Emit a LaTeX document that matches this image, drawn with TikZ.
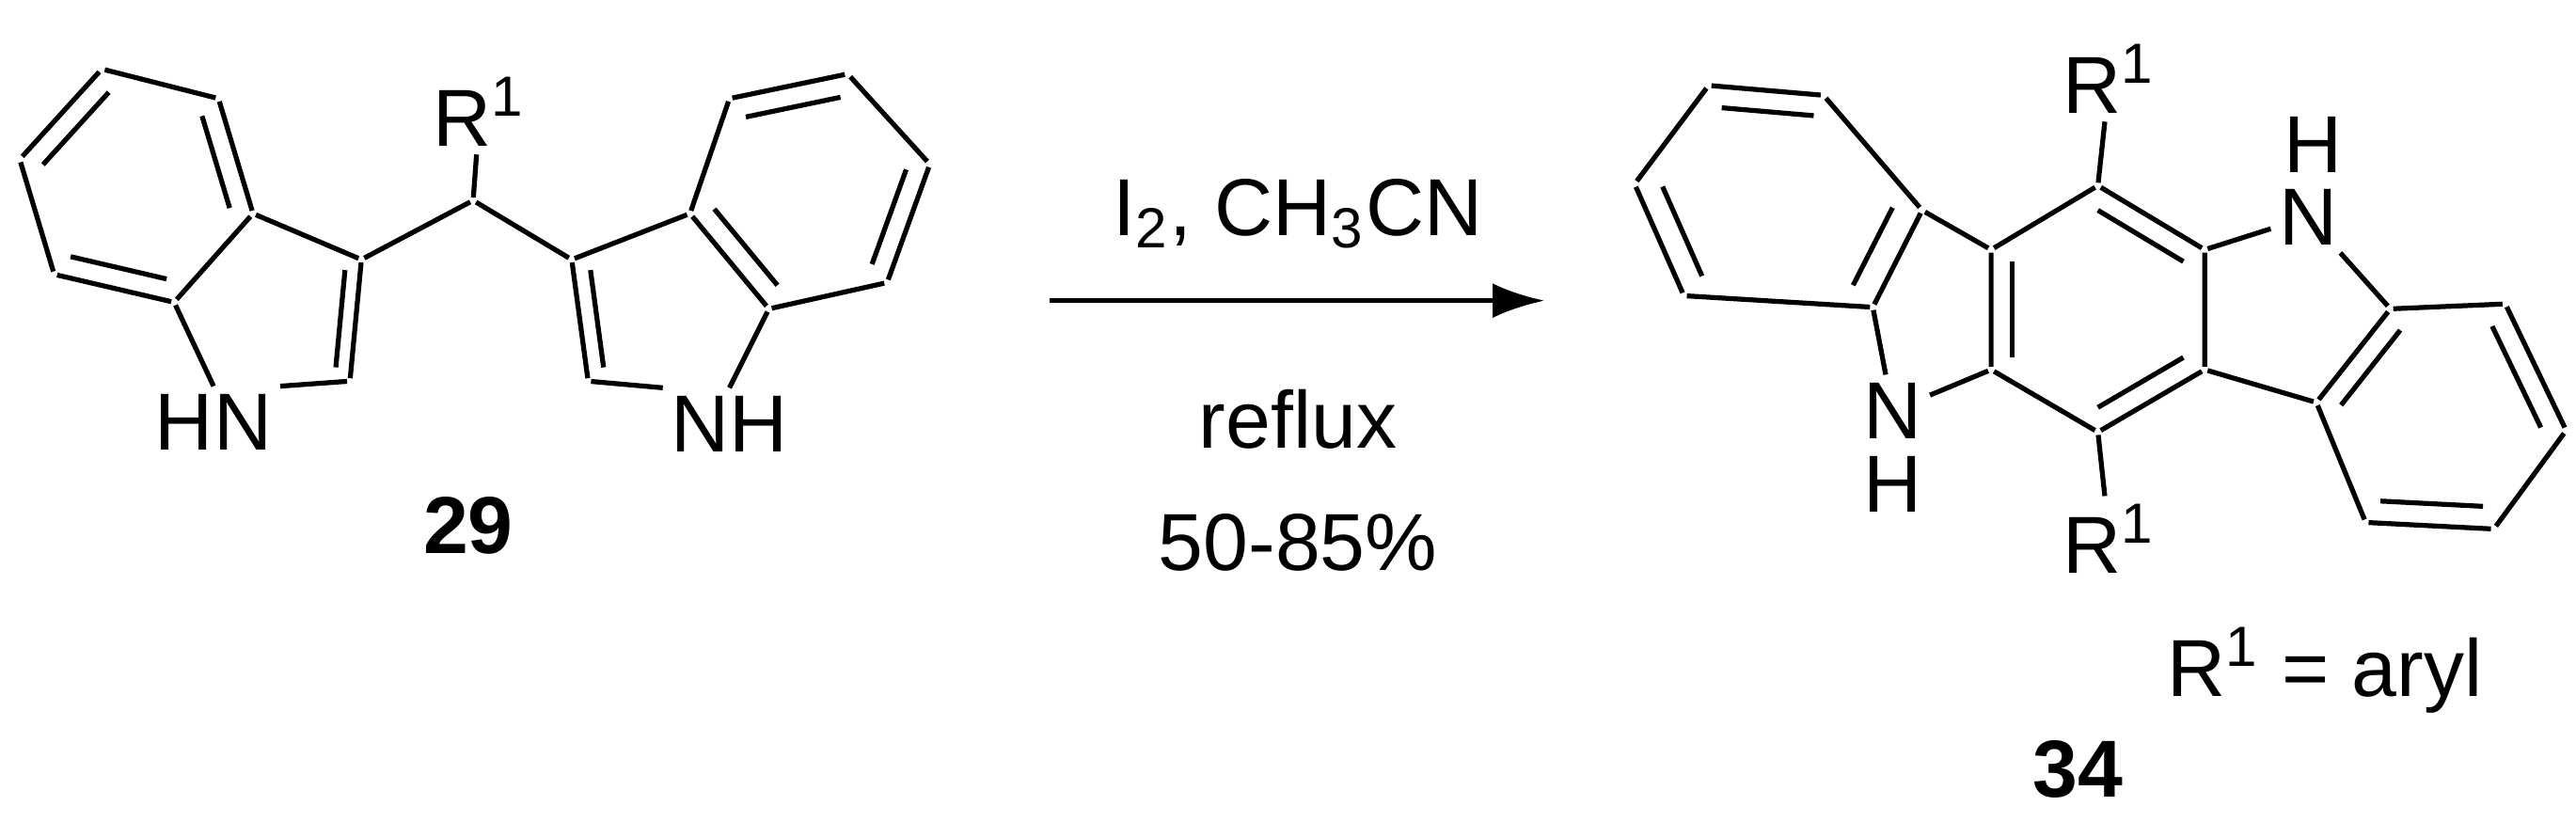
\documentclass[tikz,border=0pt]{standalone}
\usepackage{fontspec}
\setmainfont{Liberation Sans}
\usetikzlibrary{calc,arrows.meta}
\begin{document}
\begin{tikzpicture}[x=0.01cm,y=-0.01cm,line width=0.85pt,
 atom/.style={inner sep=0pt,outer sep=0pt},
 lab/.style={inner sep=1pt,font=\fontsize{14}{16}\selectfont},
 bl/.style={font=\fontsize{14}{16}\selectfont\bfseries}]
\newcommand\dbl[3]{\draw ($(#1)!0.2!(#3)$) -- ($(#2)!0.2!(#3)$);}
\newcommand\Rone{R\textsuperscript{1}}
\useasboundingbox (0,0) rectangle (1568,500);
% ---- 29 ----
\foreach \n/\p in {a1/{62,42},a2/{133,60},a3/{154,130},a4/{106,184},a5/{33,167},a6/{12,97},a7/{220,158},a8/{213,232},
 ch/{288,122},b3/{348,158},b2/{358,232},b4/{420,130},b5/{444,60},b6/{516,45},b7/{566,100},b8/{540,172},b9/{468,188},
 ac/{83,113},bc/{494,116},ap/{170,190},bp/{405,190}}
 \node[atom] (\n) at (\p) {};
\node[lab] (n1) at (130,257) {HN};
\node[lab] (n2) at (444,258) {NH};
\node[lab] (r0) at (292,68) {\Rone};
\draw (a1)--(a2)--(a3)--(a4)--(a5)--(a6)--(a1);
\dbl{a6}{a1}{ac}\dbl{a2}{a3}{ac}\dbl{a4}{a5}{ac}
\draw (a3)--(a7)--(a8);
\draw (a8)--(n1.north east);\draw (n1.north)--(a4);
\dbl{a7}{a8}{ap}
\draw (a7)--(ch)--(b3)--(b2)--(n2.north west);\draw (n2.north)--(b9);
\draw (ch)--(r0);
\dbl{b3}{b2}{bp}
\draw (b3)--(b4)--(b5)--(b6)--(b7)--(b8)--(b9)--(b4);
\dbl{b5}{b6}{bc}\dbl{b7}{b8}{bc}\dbl{b9}{b4}{bc}
\node[bl] (l29) at (285,320) {29};
% ---- arrow ----
\node[atom] (ar1) at (637,183) {};\node[atom] (ar2) at (942,183) {};
\draw[-{Latex[length=9pt,width=6pt]}] (ar1)--(ar2);
\node[lab] (t1) at (790,130) {I\textsubscript{2}, CH\textsubscript{3}CN};
\node[lab] (t2) at (790,255) {reflux};
\node[lab] (t3) at (790,330) {50-85\%};
% ---- 34 ----
\foreach \n/\p in {c1/{1212,152},c2/{1277,113},c3/{1342,152},c4/{1342,225},c5/{1277,263},c6/{1212,225},
 d1/{1455,188},d2/{1525,185},d3/{1562,262},d4/{1518,322},d5/{1440,318},d6/{1410,245},
 e1/{1140,187},e2/{1170,128},e3/{1110,58},e4/{1040,52},e5/{995,112},e6/{1025,180},
 cc/{1277,188},dc/{1485,253},ec/{1080,120}}
 \node[atom] (\n) at (\p) {};
\node[lab] (nr) at (1405,132) {N};\node[lab] (hr) at (1408,88) {H};
\node[lab] (nl) at (1152,250) {N};\node[lab] (hl) at (1152,295) {H};
\node[lab] (rt) at (1284,48) {\Rone};
\node[lab] (rb) at (1284,328) {\Rone};
\draw (c1)--(c2)--(c3)--(c4)--(c5)--(c6)--(c1);
\dbl{c2}{c3}{cc}\dbl{c1}{c6}{cc}\dbl{c5}{c4}{cc}
\draw (c2)--(rt);\draw (c5)--(rb);
\draw (c3)--(nr)--(d1);
\draw (c4)--(d6);
\draw (d1)--(d2)--(d3)--(d4)--(d5)--(d6)--(d1);
\dbl{d1}{d6}{dc}\dbl{d2}{d3}{dc}\dbl{d4}{d5}{dc}
\draw (c6)--(nl)--(e1);
\draw (e2)--(c1);
\draw (e1)--(e2)--(e3)--(e4)--(e5)--(e6)--(e1);
\dbl{e2}{e1}{ec}\dbl{e3}{e4}{ec}\dbl{e5}{e6}{ec}
\node[lab] (ar) at (1415,408) {\Rone{} = aryl};
\node[bl] (l34) at (1265,468) {34};
\end{tikzpicture}
\end{document}
